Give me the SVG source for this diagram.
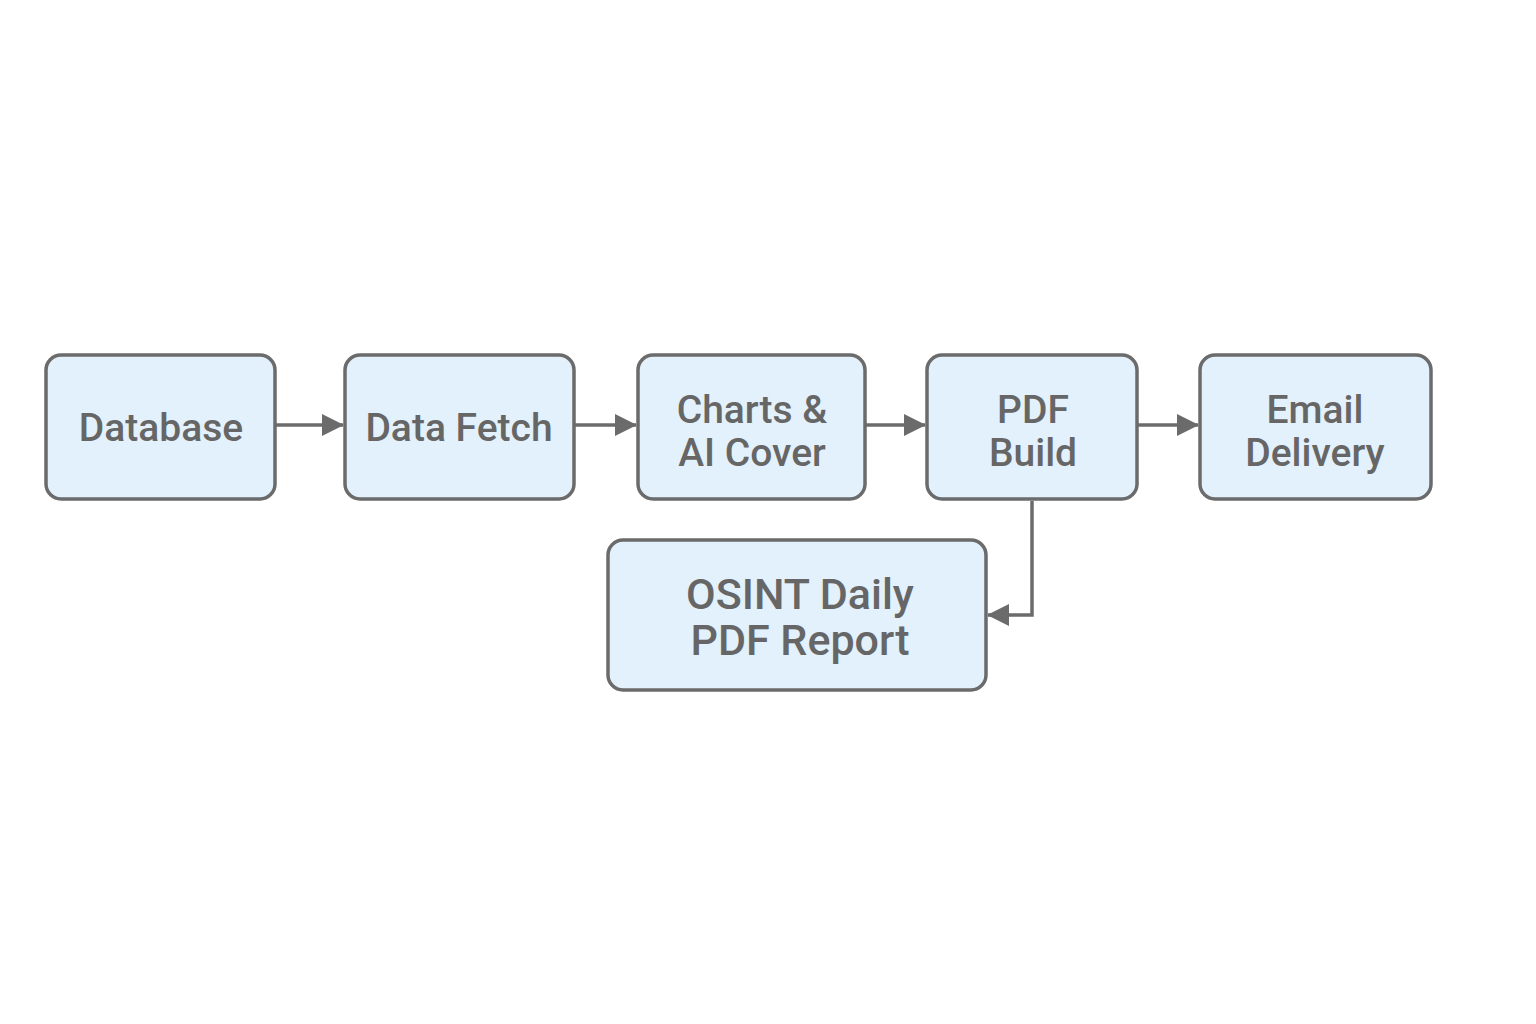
<svg xmlns="http://www.w3.org/2000/svg" width="1536" height="1024" viewBox="0 0 1536 1024">
<style>
.box{fill:#e3f1fc;stroke:#6b6b6b;stroke-width:3.5}
.lbl{font-family:"Roboto","Liberation Sans",sans-serif;font-size:39px;font-weight:500;fill:#666666;text-anchor:middle}
.big{font-size:43px}
.conn{fill:none;stroke:#6b6b6b;stroke-width:3.5}
</style>
<defs>
<marker id="ah" markerWidth="22" markerHeight="22" viewBox="0 0 22 22" refX="21" refY="11" orient="auto" markerUnits="userSpaceOnUse">
<path d="M0,0 L22,11 L0,22 Z" fill="#6b6b6b"/>
</marker>
</defs>
<rect width="1536" height="1024" fill="#ffffff"/>
<g id="connectors">
<line class="conn" x1="276" y1="425" x2="343" y2="425" marker-end="url(#ah)"/>
<line class="conn" x1="575" y1="425" x2="636" y2="425" marker-end="url(#ah)"/>
<line class="conn" x1="866" y1="425" x2="925" y2="425" marker-end="url(#ah)"/>
<line class="conn" x1="1138" y1="425" x2="1198" y2="425" marker-end="url(#ah)"/>
<path class="conn" d="M1032,501 L1032,615 L988,615" marker-end="url(#ah)"/>
</g>
<g id="database">
<rect class="box" x="46" y="355" width="229" height="144" rx="15"/>
<text class="lbl" x="161" y="441">Database</text>
</g>
<g id="data-fetch">
<rect class="box" x="345" y="355" width="229" height="144" rx="15"/>
<text class="lbl" x="459" y="441">Data Fetch</text>
</g>
<g id="charts">
<rect class="box" x="638" y="355" width="227" height="144" rx="15"/>
<text class="lbl" x="752" y="423">Charts &amp;</text>
<text class="lbl" x="752" y="466">AI Cover</text>
</g>
<g id="pdf-build">
<rect class="box" x="927" y="355" width="210" height="144" rx="15"/>
<text class="lbl" x="1033" y="423">PDF</text>
<text class="lbl" x="1033" y="466">Build</text>
</g>
<g id="email">
<rect class="box" x="1200" y="355" width="231" height="144" rx="15"/>
<text class="lbl" x="1315" y="423">Email</text>
<text class="lbl" x="1315" y="466">Delivery</text>
</g>
<g id="osint-report">
<rect class="box" x="608" y="540" width="378" height="150" rx="15"/>
<text class="lbl big" x="800" y="609">OSINT Daily</text>
<text class="lbl big" x="800" y="655">PDF Report</text>
</g>
</svg>
